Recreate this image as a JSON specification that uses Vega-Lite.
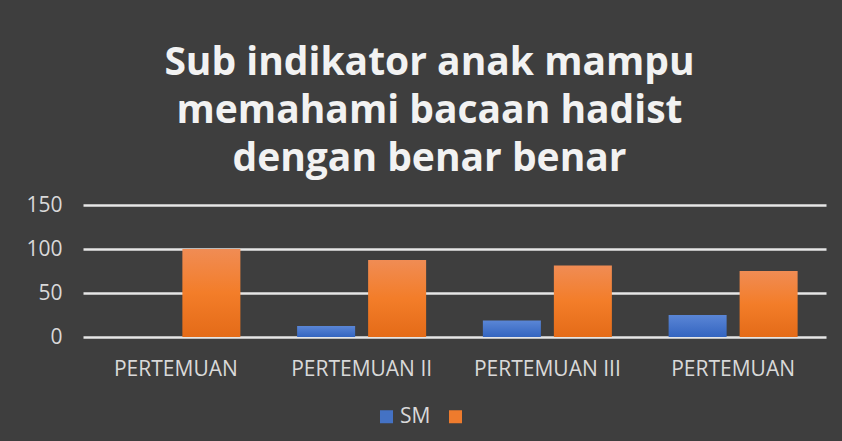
{
  "$schema": "https://vega.github.io/schema/vega-lite/v6.json",
  "autosize": {"type": "none"},
  "width": 743,
  "height": 132,
  "padding": {"left": 83, "top": 205, "right": 16, "bottom": 104},
  "background": "#3e3e3e",
  "title": {
    "text": ["Sub indikator anak mampu", "memahami bacaan hadist", "dengan benar benar"],
    "font": "Open Sans",
    "fontSize": 39,
    "fontWeight": "bold",
    "color": "#f2f2f2",
    "lineHeight": 48,
    "anchor": "middle",
    "frame": "group",
    "offset": 15,
    "dx": -25
  },
  "data": {
    "values": [
      {"pertemuan": "PERTEMUAN", "seri": "SM", "nilai": 0},
      {"pertemuan": "PERTEMUAN", "seri": " ", "nilai": 100},
      {"pertemuan": "PERTEMUAN II", "seri": "SM", "nilai": 12.5},
      {"pertemuan": "PERTEMUAN II", "seri": " ", "nilai": 87.5},
      {"pertemuan": "PERTEMUAN III", "seri": "SM", "nilai": 18.75},
      {"pertemuan": "PERTEMUAN III", "seri": " ", "nilai": 81.25},
      {"pertemuan": "PERTEMUAN ", "seri": "SM", "nilai": 25},
      {"pertemuan": "PERTEMUAN ", "seri": " ", "nilai": 75}
    ]
  },
  "encoding": {
    "x": {
      "field": "pertemuan",
      "type": "nominal",
      "sort": null,
      "scale": {"paddingInner": 0.3055, "paddingOuter": 0.1528},
      "axis": {
        "title": null,
        "labelAngle": 0,
        "labelFont": "Open Sans",
        "labelFontSize": 21,
        "labelColor": "#d9d9d9",
        "labelPadding": 21,
        "ticks": false,
        "domain": false
      }
    },
    "xOffset": {
      "field": "seri",
      "type": "nominal",
      "sort": ["SM", " "],
      "scale": {"paddingInner": 0.183, "paddingOuter": 0}
    },
    "y": {
      "field": "nilai",
      "type": "quantitative",
      "scale": {"domain": [0, 150], "nice": false},
      "axis": {
        "title": null,
        "values": [0, 50, 100, 150],
        "labelFont": "Open Sans",
        "labelFontSize": 21,
        "labelColor": "#d9d9d9",
        "labelPadding": 21,
        "ticks": false,
        "domain": false,
        "gridColor": "#e6e6e6",
        "gridWidth": 2.5,
        "gridOpacity": 1
      }
    }
  },
  "layer": [
    {
      "mark": {"type": "bar", "opacity": 0},
      "encoding": {
        "color": {
          "field": "seri",
          "type": "nominal",
          "scale": {"domain": ["SM", " "], "range": ["#4472c4", "#ee7b2d"]},
          "legend": {
            "title": null,
            "orient": "none",
            "legendX": 293,
            "legendY": 201,
            "direction": "horizontal",
            "symbolType": "square",
            "symbolSize": 169,
            "symbolStrokeWidth": 0,
            "symbolOpacity": 1,
            "labelFont": "Open Sans",
            "labelFontSize": 21,
            "labelColor": "#d9d9d9",
            "labelOffset": 3,
            "columnPadding": 14
          }
        }
      }
    },
    {
      "mark": {"type": "bar"},
      "encoding": {
        "fill": {
          "condition": {
            "test": "datum.seri === 'SM'",
            "value": {"gradient": "linear", "x1": 0, "y1": 0, "x2": 0, "y2": 1, "stops": [{"offset": 0, "color": "#5a86d6"}, {"offset": 1, "color": "#3465c0"}]}
          },
          "value": {"gradient": "linear", "x1": 0, "y1": 0, "x2": 0, "y2": 1, "stops": [{"offset": 0, "color": "#f08c54"}, {"offset": 0.5, "color": "#f37d29"}, {"offset": 1, "color": "#e46b18"}]}
        }
      }
    }
  ],
  "config": {
    "view": {"stroke": null}
  }
}
